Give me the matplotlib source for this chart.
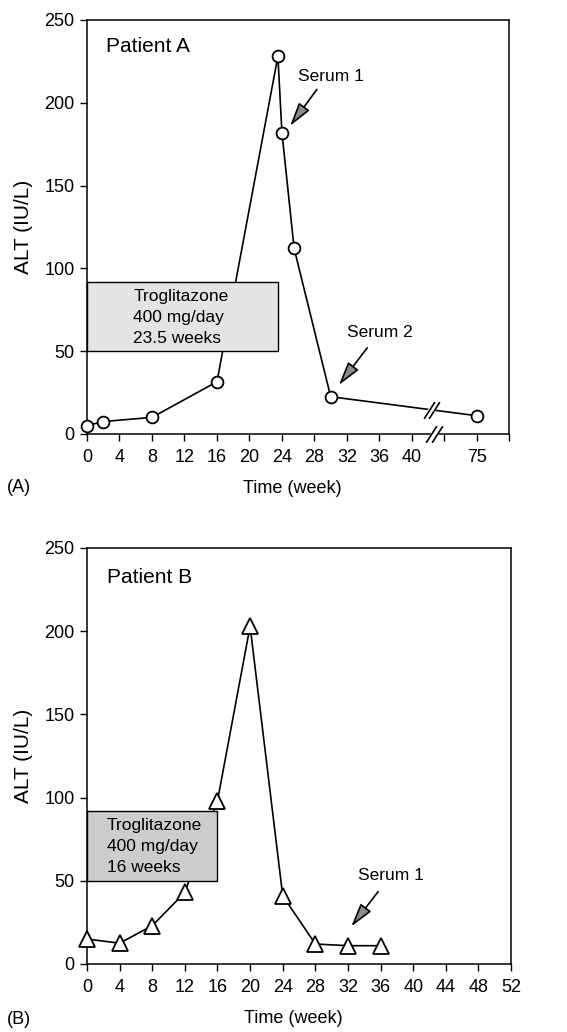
import numpy as np
import matplotlib
matplotlib.use("Agg")
import matplotlib.pyplot as plt

plt.rcParams['font.family'] = ['Liberation Sans', 'DejaVu Sans']

# Patient A: weeks on treatment and ALT level
weeks_a = [0, 2, 8, 16, 23.5, 24, 25.5, 30, 75]
alt_a = [5, 7.5, 10, 31.5, 228, 182, 112, 22.5, 11]
# Patient B
weeks_b = [0, 4, 8, 12, 16, 20, 24, 28, 32, 36]
alt_b = [15, 12.5, 23, 43, 98, 203, 41, 12, 11, 11]

ticks = list(range(0, 53, 4))
ticklabels_a = [str(t) for t in ticks if t <= 40] + ['', '75', '']
ticklabels_b = [str(t) for t in ticks]

# axis break for patient A: week 75 is drawn at the 48 slot
break_at = 42.7
def squeeze(w):
    w = np.asarray(w, dtype=float)
    return np.where(w > 44, w - 27, w)

fig = plt.figure(figsize=(5.67, 10.32), dpi=100)
ax_a = fig.add_axes([0.1534, 0.5795, 0.745, 0.4012])
ax_b = fig.add_axes([0.1534, 0.0659, 0.748, 0.4031])

def style(ax, labels):
    ax.set_xlim(0, 52)
    ax.set_ylim(0, 250)
    ax.set_xticks(ticks)
    ax.set_xticklabels(labels)
    ax.set_yticks([0, 50, 100, 150, 200, 250])
    ax.tick_params(direction='out', length=5, width=1, labelsize=13, pad=4)
    ax.tick_params(axis='x', pad=6)
    ax.tick_params(right=False, top=False)
    for s in ax.spines.values():
        s.set_linewidth(1.1)
    ax.set_xlabel('Time (week)', fontsize=13)
    ax.set_ylabel('ALT (IU/L)', fontsize=15)
    ax.xaxis.set_label_coords(0.486, -0.111)
    ax.yaxis.set_label_coords(-0.128, 0.5)

def series(ax, x, y, marker, ms):
    ax.plot(x, y, color='k', lw=1.2, zorder=2, clip_on=False)
    ax.plot(x, y, linestyle='none', marker=marker, ms=ms, mfc='white',
            mec='k', mew=1.3, zorder=4, clip_on=False)

def box(ax, x1, fc, text, tx):
    ax.fill_between([0, x1], 50, 92, facecolor=fc, edgecolor='k', lw=1,
                    zorder=3, clip_on=False)
    ax.text(tx, 70.5, text, ha='left', va='center', fontsize=12.5,
            linespacing=1.5, zorder=5)

def pointer(ax, label, tpos, tail, head):
    ax.text(tpos[0], tpos[1], label, ha='center', va='center', fontsize=12.5)
    ax.annotate('', xy=head, xytext=tail,
                arrowprops=dict(arrowstyle='-|>,head_length=1.45,head_width=0.4',
                                fc='#8a8a8a', ec='k', lw=1.2,
                                shrinkA=0, shrinkB=0))

slash = [(-0.32, -0.5), (0.32, 0.5)]
def break_mark(ax, x, y):
    ax.plot([x], [y], linestyle='none', marker=slash, ms=12, mec='white',
            mew=5, zorder=6, clip_on=False)
    ax.plot([x - 0.35, x + 0.35], [y, y], linestyle='none', marker=slash,
            ms=12, mec='k', mew=1.2, zorder=7, clip_on=False)

# Patient A
style(ax_a, ticklabels_a)
xa = squeeze(weeks_a)
series(ax_a, xa, alt_a, 'o', 8.5)
box(ax_a, 23.5, '#e4e4e4', 'Troglitazone\n400 mg/day\n23.5 weeks', 5.7)
ax_a.text(2.3, 234, 'Patient A', ha='left', va='center', fontsize=15)
pointer(ax_a, 'Serum 1', (30.0, 216), (28.3, 208), (25.0, 186))
pointer(ax_a, 'Serum 2', (36.1, 61), (34.5, 52), (31.0, 29.5))
break_mark(ax_a, 42.4, np.interp(42.4, xa, alt_a))
break_mark(ax_a, break_at, 0)
fig.text(19 / 567, 1 - 488 / 1032, '(A)', ha='center', va='center', fontsize=13)

# Patient B
style(ax_b, ticklabels_b)
series(ax_b, weeks_b, alt_b, '^', 11)
box(ax_b, 16, '#cdcdcd', 'Troglitazone\n400 mg/day\n16 weeks', 2.4)
ax_b.text(2.5, 232, 'Patient B', ha='left', va='center', fontsize=15)
pointer(ax_b, 'Serum 1', (37.3, 53), (35.7, 43.5), (32.4, 22.5))
fig.text(19 / 567, 1 - 1020 / 1032, '(B)', ha='center', va='center', fontsize=13)

fig.savefig('out.png', dpi=100)
